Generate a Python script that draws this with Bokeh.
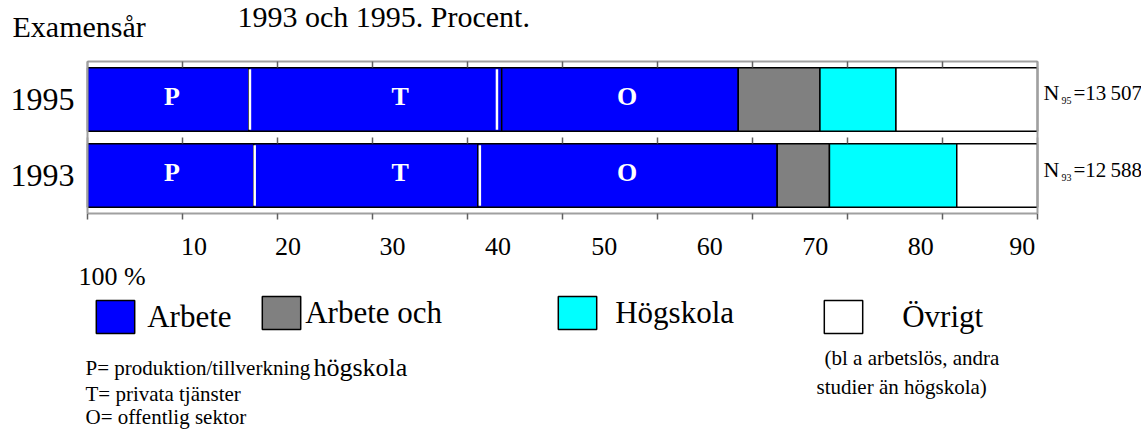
from bokeh.plotting import figure
from bokeh.models import (Range1d, FixedTicker, LinearAxis, CustomJSTickFormatter,
                          Label, Legend, LegendItem, ColumnDataSource)
from bokeh.core.properties import value
from bokeh.embed import file_html
from bokeh.resources import INLINE

# ---------------- data ----------------
years = ["1995", "1993"]
arbete_P = [17.0, 17.5]          # Arbete, produktion/tillverkning
arbete_T = [26.6, 23.6]          # Arbete, privata tjänster
arbete_O = [24.9, 31.5]          # Arbete, offentlig sektor
arbete_och_hogskola = [8.6, 5.5]
hogskola = [8.0, 13.4]
ovrigt = [14.9, 8.5]
n_sub = ["95", "93"]
n_total = ["13\u2009507", "12\u2009588"]
sector_letters = ["P", "T", "O"]
x_ticks = [0, 10, 20, 30, 40, 50, 60, 70, 80, 90, 100]
x_tick_labels = ["10", "20", "30", "40", "50", "60", "70", "80", "90"]

# ---------------- layout (positions) ----------------
year_y = [1.5, 0.5]
letter_at = [8.9, 32.9, 56.8]
divider_at = [[17.1, 43.1], [17.6, 41.3]]
x_tick_label_at = [11.2, 21.1, 32.1, 43.2, 54.4, 65.5, 76.6, 87.7, 98.4]
BAR_H = 0.835
W, H = 1141, 430

FONT = "Liberation Serif"
BLUE, GRAY, CYAN, WHITE = "#0000ff", "#808080", "#00ffff", "#ffffff"
FRAME_GRAY = "#a0a0a0"
TICK_GRAY = "#606060"


def xd(page_x):
    return (page_x - 87) / 9.5


def yd(page_y):
    return 2 - (page_y - 61) / 76.0


p = figure(width=W, height=H, x_range=Range1d(xd(0), xd(W)), y_range=Range1d(yd(H), yd(0)),
           output_backend="svg", toolbar_location=None,
           x_axis_location=None, y_axis_location=None, min_border=0)
p.min_border_left = p.min_border_right = p.min_border_top = p.min_border_bottom = 0
p.grid.visible = False
p.outline_line_color = None
p.background_fill_color = "white"
p.border_fill_color = "white"

lookup = ("for (let i = 0; i < pos.length; i++) { if (Math.abs(pos[i] - tick) < 1e-6) "
          "return labels[i]; } return '';")

# bottom axis: tick marks at 0..100 (minor), labels at their own places (major)
xb = LinearAxis(ticker=FixedTicker(ticks=x_tick_label_at, minor_ticks=x_ticks),
                formatter=CustomJSTickFormatter(args=dict(pos=x_tick_label_at, labels=x_tick_labels),
                                                code=lookup),
                fixed_location=0, bounds=(0, 100))
xb.major_tick_out = 0
xb.major_tick_in = 0
xb.minor_tick_out = 6
xb.minor_tick_in = 0
xb.minor_tick_line_color = TICK_GRAY
xb.minor_tick_line_width = 1.5
xb.axis_line_color = FRAME_GRAY
xb.axis_line_width = 2
xb.major_label_text_font = FONT
xb.major_label_text_font_size = "26px"
xb.major_label_text_color = "black"
xb.major_label_standoff = 18
p.add_layout(xb, "below")


def tick_rail(loc, line_color):
    ax = LinearAxis(ticker=FixedTicker(ticks=[], minor_ticks=x_ticks),
                    fixed_location=loc, bounds=(0, 100))
    ax.major_label_text_font_size = "0px"
    ax.axis_line_color = line_color
    ax.axis_line_width = 2
    ax.minor_tick_in = 6
    ax.minor_tick_out = 0
    ax.minor_tick_line_color = TICK_GRAY
    ax.minor_tick_line_width = 1.5
    p.add_layout(ax, "above")


tick_rail(2, FRAME_GRAY)   # top of the chart frame
tick_rail(1, None)         # between the two bars

# left axis: years
ya = LinearAxis(ticker=FixedTicker(ticks=year_y),
                formatter=CustomJSTickFormatter(args=dict(pos=year_y, labels=years), code=lookup),
                fixed_location=0, bounds=(0, 2))
ya.axis_line_color = FRAME_GRAY
ya.axis_line_width = 2
ya.major_tick_line_color = None
ya.minor_tick_line_color = None
ya.major_tick_out = 0
ya.major_tick_in = 0
ya.major_label_standoff = 13
ya.major_label_text_font = FONT
ya.major_label_text_font_size = "32px"
ya.major_label_text_color = "black"
p.add_layout(ya, "left")

# right edge of the frame
yr = LinearAxis(ticker=FixedTicker(ticks=[]), fixed_location=100, bounds=(0, 2))
yr.major_label_text_font_size = "0px"
yr.axis_line_color = FRAME_GRAY
yr.axis_line_width = 2
p.add_layout(yr, "right")

src = ColumnDataSource(dict(y=year_y, P=arbete_P, T=arbete_T, O=arbete_O,
                            AoH=arbete_och_hogskola, H=hogskola, Ov=ovrigt))
rs = p.hbar_stack(["P", "T", "O", "AoH", "H", "Ov"], y="y", height=BAR_H, source=src,
                  fill_color=[BLUE, BLUE, BLUE, GRAY, CYAN, WHITE],
                  line_color="black", line_width=1.5)

# white dividers inside the blue "Arbete" part
dx, dy0, dy1 = [], [], []
for yy, divs in zip(year_y, divider_at):
    for d in divs:
        dx.append(d)
        dy0.append(yy - BAR_H / 2 + 0.02)
        dy1.append(yy + BAR_H / 2 - 0.02)
p.segment(x0=dx, x1=dx, y0=dy0, y1=dy1, line_color="white", line_width=2.5)

# sector letters
lx, ly, lt = [], [], []
for yy in year_y:
    for xx, t in zip(letter_at, sector_letters):
        lx.append(xx)
        ly.append(yy + 0.045)
        lt.append(t)
p.text(x=lx, y=ly, text=lt, text_font=value(FONT), text_font_style="bold",
       text_font_size="26px", text_color="white", text_align="center", text_baseline="middle")

# legends (one per item to reproduce the irregular spacing)
# the legend swatch of a bar is drawn 10% inset, so the glyph box is enlarged accordingly
GW, GH = 48, 41
legend_specs = [
    # label, renderer, swatch left, swatch bottom (page px), label standoff
    ("Arbete", rs[0], 96, 333, 8),
    ("Arbete och", rs[3], 262, 329, 0),
    ("Högskola", rs[4], 558, 329, 14),
    ("Övrigt", rs[5], 824, 333, 35),
]
for lab, r, left, bottom, standoff in legend_specs:
    lg = Legend(items=[LegendItem(label=lab, renderers=[r])],
                location=(left - 0.1 * GW, H - (bottom + 0.1 * GH)),
                orientation="horizontal", glyph_width=GW, glyph_height=GH,
                label_standoff=standoff, label_text_font=FONT, label_text_font_size="31px",
                label_text_color="black", label_height=GH,
                border_line_color=None, background_fill_alpha=0,
                padding=0, margin=0, spacing=0)
    p.add_layout(lg, "center")


def add_text(text, px, py, size, **kw):
    # py is the wanted baseline on the page; the label is drawn a little lower, so compensate
    base = py - (0.22 * size + 3)
    p.add_layout(Label(x=xd(px), y=yd(base), text=text, text_font=FONT,
                       text_font_size=f"{size}px", text_color="black",
                       text_align="left", text_baseline="alphabetic", **kw))


add_text("1993 och 1995. Procent.", 237, 26, 30)
add_text("Examensår", 12, 36, 30)
add_text("100 %", 78, 285, 26)
add_text("P= produktion/tillverkning", 85, 375, 21)
add_text("högskola", 313, 376, 26)
add_text("T= privata tjänster", 85, 401, 21)
add_text("O= offentlig sektor", 85, 424, 21)
add_text("(bl a arbetslös, andra", 824, 365, 21)
add_text("studier än högskola)", 816, 394, 21)

n_base = [100, 177]
for sub, tot, base in zip(n_sub, n_total, n_base):
    add_text("N", 1043, base, 22)
    add_text(sub, 1061, base + 5, 10)
    add_text("=" + tot, 1073, base, 21)

open("out.html", "w").write(file_html(p, INLINE))
